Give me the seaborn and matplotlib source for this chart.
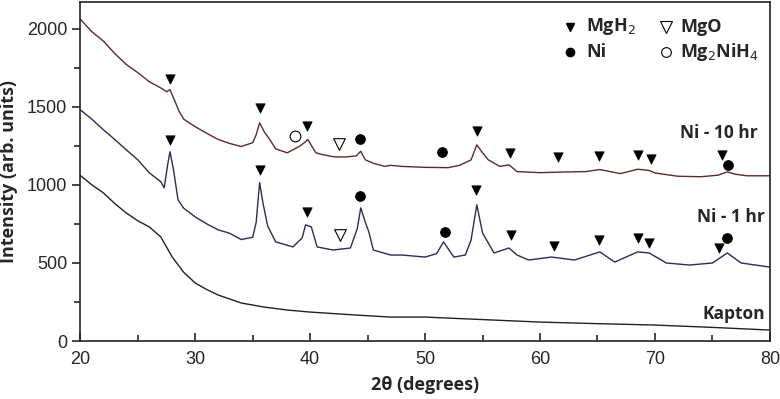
import numpy as np
import pandas as pd
import seaborn as sns
import matplotlib.pyplot as plt

# (2theta in degrees, intensity in arb. units)
x_10hr = [20, 21, 22, 23, 24, 25, 26, 27, 27.5, 27.8, 28.2, 28.6, 29, 30, 31, 32, 33, 34, 35, 35.3, 35.6, 36, 36.5, 37, 38, 39, 39.5, 39.8, 40.2, 40.5,
          41, 42, 43, 44, 44.4, 44.8, 45.5, 46.5, 47, 48, 50, 52, 53, 54, 54.5, 55, 55.5, 56.5, 57.3, 58, 60, 62, 64, 65.2, 67, 68.5, 69.5, 70,
          72, 74, 75.5, 76.3, 77, 78, 80]
y_10hr = [2060, 1980, 1920, 1840, 1770, 1718, 1660, 1620, 1596, 1609, 1540, 1470, 1420, 1372, 1330, 1290, 1265, 1245, 1270, 1320, 1397, 1340, 1288, 1230, 1205, 1244, 1270, 1290, 1240, 1205,
           1195, 1180, 1178, 1185, 1215, 1160, 1138, 1118, 1125, 1118, 1112, 1110, 1125, 1160, 1256, 1205, 1160, 1118, 1128, 1085, 1078, 1082, 1085, 1098, 1072, 1100, 1092, 1076,
           1055, 1052, 1062, 1083, 1068, 1058, 1058]

x_1hr = [20, 21, 22, 23, 24, 25, 26, 27, 27.3, 27.6, 27.8, 28.1, 28.5, 29, 30, 31, 32, 33, 34, 35, 35.3, 35.6, 35.9, 36.3, 37, 38.5, 39.3, 39.6, 40.1, 40.6,
         42, 43.5, 44.1, 44.4, 44.8, 45.1, 45.5, 47, 48, 50, 51, 51.6, 52.5, 53.5, 54, 54.5, 55, 56, 57.3, 58, 59, 61, 63, 65.2, 66.5, 68.5, 69.5,
         71, 73, 75, 76.3, 77.5, 80]
y_1hr = [1480, 1420, 1353, 1290, 1224, 1160, 1077, 1020, 981, 1130, 1212, 1100, 904, 850, 795, 750, 712, 690, 650, 665, 760, 1015, 880, 737, 635, 603, 660, 744, 731, 603,
         583, 596, 720, 853, 760, 700, 583, 551, 551, 538, 560, 635, 538, 551, 647, 872, 692, 564, 596, 551, 519, 538, 519, 571, 506, 571, 564,
         500, 487, 500, 564, 500, 474]

x_kapton = [20, 21, 22, 23, 24, 25, 26, 27, 28, 29, 30, 31, 32, 34, 36, 38, 40, 44, 47, 50, 55, 60, 65, 70, 75, 80]
y_kapton = [1060, 1000, 949, 880, 820, 770, 731, 667, 538, 440, 372, 330, 295, 244, 218, 199, 186, 167, 154, 154, 138, 122, 112, 103, 88, 71]

# phase markers (x, y) for each pattern
mgh2_x = [27.8, 35.65, 39.7, 54.5, 57.4, 61.6, 65.1, 68.5, 69.7, 75.85,
          27.8, 35.65, 39.7, 54.4, 57.5, 61.2, 65.1, 68.5, 69.5, 75.6]
mgh2_y = [1679, 1494, 1378, 1342, 1203, 1177, 1186, 1188, 1165, 1188,
          1284, 1096, 825, 966, 679, 611, 647, 657, 630, 598]
ni_x = [44.35, 51.45, 76.4, 44.3, 51.7, 76.3]
ni_y = [1295, 1209, 1128, 929, 701, 657]
mgo_x = [42.5, 42.6]
mgo_y = [1263, 679]
mg2nih4_x = [38.7]
mg2nih4_y = [1314]

sns.set_style("ticks")
plt.rcParams['font.family'] = ['Liberation Sans', 'DejaVu Sans']

fig, ax = plt.subplots(figsize=(7.8, 3.99), dpi=100)
fig.subplots_adjust(left=0.103, right=0.987, bottom=0.145, top=0.995)

sns.lineplot(x=x_10hr, y=y_10hr, ax=ax, color='#5a2c2c', lw=1.0)
sns.lineplot(x=x_1hr, y=y_1hr, ax=ax, color='#2b2b58', lw=1.0)
sns.lineplot(x=x_kapton, y=y_kapton, ax=ax, color='#222222', lw=1.0)

sns.scatterplot(x=mgh2_x, y=mgh2_y, ax=ax, marker='v', s=45, color='black', edgecolor='black', zorder=5)
sns.scatterplot(x=ni_x, y=ni_y, ax=ax, marker='o', s=50, color='black', edgecolor='black', zorder=5)
sns.scatterplot(x=mgo_x, y=mgo_y, ax=ax, marker='v', s=70, facecolor='white', edgecolor='black', linewidth=0.8, zorder=5)
sns.scatterplot(x=mg2nih4_x, y=mg2nih4_y, ax=ax, marker='o', s=60, facecolor='white', edgecolor='black', linewidth=0.8, zorder=5)

ax.set_xlim(20, 80)
ax.set_ylim(0, 2170)
ax.set_xticks([20, 30, 40, 50, 60, 70, 80])
ax.set_xticks([25, 35, 45, 55, 65, 75], minor=True)
ax.set_yticks([0, 500, 1000, 1500, 2000])
ax.set_yticks([250, 750, 1250, 1750], minor=True)
ax.tick_params(axis='x', which='both', direction='in', labelsize=13, pad=7)
ax.tick_params(axis='x', which='major', length=6, width=1.2)
ax.tick_params(axis='x', which='minor', length=4, width=1.2)
ax.tick_params(axis='y', which='both', direction='out', labelsize=13)
ax.tick_params(axis='y', which='major', length=6, width=1.2)
ax.tick_params(axis='y', which='minor', length=4, width=1.2)
for sp in ax.spines.values():
    sp.set_linewidth(1.2)
    sp.set_color('#222222')

bold = ['Open Sans', 'DejaVu Sans']
ax.set_xlabel('2θ (degrees)', fontsize=13, fontweight='bold', family=bold, labelpad=6)
ax.set_ylabel('Intensity (arb. units)', fontsize=13, fontweight='bold', family=bold, labelpad=6)

lab = dict(fontsize=12.5, fontweight='bold', family=bold, ha='right', va='center')
ax.text(78.96, 1333, 'Ni - 10 hr', **lab)
ax.text(79.6, 795, 'Ni - 1 hr', **lab)
ax.text(79.6, 173, 'Kapton', **lab)

# legend drawn as text + markers
leg = dict(fontsize=13, fontweight='bold', family=bold, va='center', ha='left')
ax.plot([62.6], [2013], marker='v', ms=6, color='black', ls='none')
ax.text(64.0, 2013, 'MgH$_2$', **leg)
ax.plot([71.0], [2013], marker='v', ms=8, mfc='white', mec='black', mew=0.8, ls='none')
ax.text(72.2, 2013, 'MgO', **leg)
ax.plot([62.6], [1853], marker='o', ms=6, color='black', ls='none')
ax.text(64.0, 1853, 'Ni', **leg)
ax.plot([71.0], [1853], marker='o', ms=7, mfc='white', mec='black', mew=0.8, ls='none')
ax.text(72.2, 1853, 'Mg$_2$NiH$_4$', **leg)

fig.savefig('out.png', dpi=100)
